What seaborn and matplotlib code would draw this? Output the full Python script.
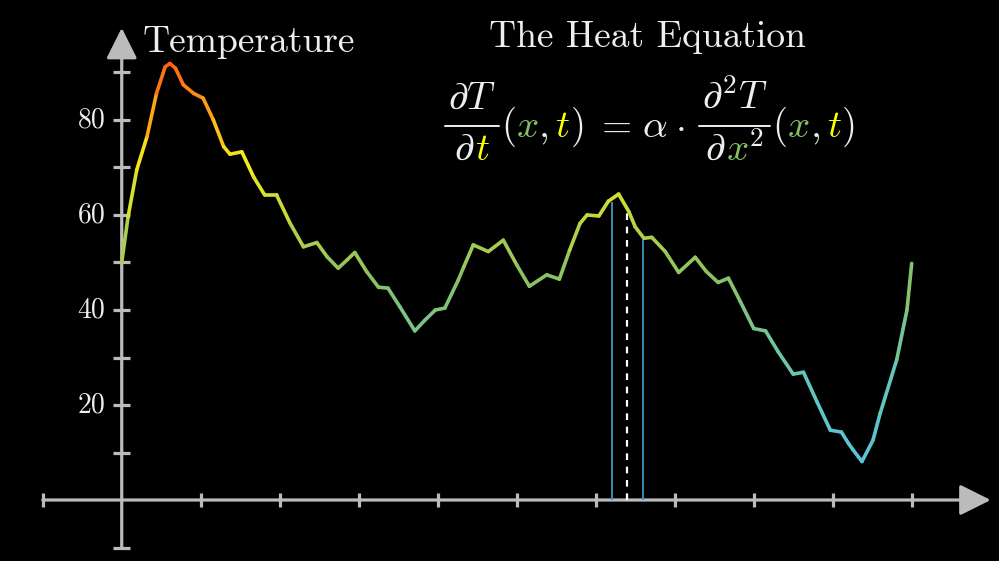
#Gráficos
import matplotlib.pyplot as plt
import matplotlib.transforms as mtransforms
from matplotlib.collections import LineCollection
from matplotlib.lines import Line2D
import seaborn as sns
import numpy as np

#dados (posicao na barra, temperatura)
posicao = [0.00, 0.08, 0.19, 0.32, 0.44, 0.55, 0.61, 0.68, 0.78, 0.91,
           1.03, 1.16, 1.29, 1.37, 1.52, 1.67, 1.81, 1.96, 2.13, 2.30,
           2.47, 2.60, 2.74, 2.85, 2.95, 3.10, 3.25, 3.37, 3.52, 3.71,
           3.84, 3.97, 4.09, 4.26, 4.33, 4.45, 4.64, 4.83, 5.00, 5.16,
           5.38, 5.54, 5.67, 5.80, 5.89, 6.04, 6.16, 6.29, 6.42, 6.50,
           6.61, 6.71, 6.88, 7.05, 7.26, 7.40, 7.55, 7.68, 7.83, 8.00,
           8.15, 8.31, 8.50, 8.63, 8.80, 8.97, 9.11, 9.20, 9.26, 9.37,
           9.51, 9.60, 9.81, 9.94, 10.00]
temperatura = [50.0, 59.6, 69.5, 76.5, 85.6, 91.2, 91.9, 90.9, 87.4, 85.6,
               84.6, 80.0, 74.4, 72.8, 73.3, 68.0, 64.2, 64.2, 58.3, 53.3,
               54.2, 51.2, 48.8, 50.5, 52.1, 48.1, 44.8, 44.6, 40.7, 35.6,
               37.9, 40.0, 40.4, 46.3, 49.1, 53.7, 52.3, 54.7, 49.5, 45.0,
               47.4, 46.5, 52.6, 58.2, 60.0, 59.8, 62.9, 64.4, 60.7, 57.5,
               55.1, 55.3, 52.3, 47.9, 51.1, 48.1, 45.8, 46.7, 41.8, 36.1,
               35.6, 31.2, 26.5, 26.9, 20.7, 14.7, 14.3, 11.9, 10.5, 8.1,
               12.6, 18.2, 29.5, 40.0, 49.8]

#eixos
x_ticks = [-1, 1, 2, 3, 4, 5, 6, 7, 8, 9, 10]
y_ticks = [-10, 10, 20, 30, 40, 50, 60, 70, 80, 90]
y_labels = [20, 40, 60, 80]

#linhas de sonda (vizinhos e ponto central)
vizinhos_x = [6.2, 6.6]
vizinhos_T = [62.8, 54.7]
centro_x = [6.4]
centro_T = [61.5]

sns.set_theme(style='dark', rc={'figure.facecolor': 'black', 'axes.facecolor': 'black'})
plt.rcParams['mathtext.fontset'] = 'cm'

cinza = '#BBBBBB'
branco = '#EEEEEE'
verde = '#83C167'
amarelo = '#FFFF00'

fig = plt.figure(figsize=(9.99, 5.61), dpi=100)
ax = fig.add_axes([0, 0, 1, 1])
ax.set_xlim(-1.541, 11.105)
ax.set_ylim(-12.84, 105.26)
ax.axis('off')

# eixo x e eixo y com setas
seta = dict(arrowstyle='-|>,head_length=1.9,head_width=0.95', color=cinza,
            lw=2.3, shrinkA=0, shrinkB=0, mutation_scale=10)
ax.annotate('', xy=(11.0, 0), xytext=(-1, 0), arrowprops=seta, zorder=1)
ax.annotate('', xy=(0, 99.4), xytext=(0, -10), arrowprops=seta, zorder=1)
ax.vlines(x_ticks, -1.5, 1.5, color=cinza, lw=2.3, zorder=1)
ax.hlines(y_ticks, -0.105, 0.105, color=cinza, lw=2.3, zorder=1)
for v in y_labels:
    ax.text(-0.21, v, str(v), ha='right', va='center', fontsize=20,
            family='cmr10', color=branco)
ax.text(0.27, 94.3, 'Temperature', ha='left', va='baseline', fontsize=27,
        family='cmr10', color=branco)

# sondas
ax.vlines(vizinhos_x, 0, vizinhos_T, color='#3F96BE', lw=1.3, zorder=2)
ax.vlines(centro_x, 0, centro_T, color='white', lw=1.6, linestyles=(0, (3, 3)), zorder=2)

# curva colorida pela temperatura
calor = sns.blend_palette(['#55C1E6', '#62C6BE', '#8BC163', '#F5EC1A', '#FF4A10'], as_cmap=True)
pts = np.column_stack([posicao, temperatura])
segs = np.stack([pts[:-1], pts[1:]], axis=1)
meio = (np.array(temperatura[:-1]) + np.array(temperatura[1:])) / 2
lc = LineCollection(segs, colors=calor(plt.Normalize(0, 95)(meio)), linewidths=2.6,
                    capstyle='round', joinstyle='round', zorder=3)
ax.add_collection(lc)

# titulo e equacao
pix = mtransforms.IdentityTransform()
rend = fig.canvas.get_renderer()
fig.text(647.5, 561 - 46.5, 'The Heat Equation', ha='center', va='baseline',
         fontsize=27, family='cmr10', color=branco, transform=pix)

S = 28

def pecas(itens, x, y, size=S):
    out = []
    for s, c, gap in itens:
        t = fig.text(x, y, s, color=c, fontsize=size, ha='left', va='baseline', transform=pix)
        x += t.get_window_extent(rend).width + gap
        out.append(t)
    return out, x

def desloca(objs, dx):
    for t in objs:
        px, py = t.get_position()
        t.set_position((px + dx, py))

def fracao(num, den, x, base):
    n, nx = pecas(num, x, base + 28)
    d, dx = pecas(den, x, base - 23)
    wn, wd = nx - x, dx - x
    w = max(wn, wd) + 6
    desloca(n, (w - wn) / 2)
    desloca(d, (w - wd) / 2)
    fig.add_artist(Line2D([x, x + w], [base + 11, base + 11], color=branco,
                          lw=1.4, transform=pix))
    return x + w

base = 561 - 136.7
x = fracao([('$\\partial T$', branco, 0)],
           [('$\\partial$', branco, 0), ('$t$', amarelo, 0)], 445, base)
_, x = pecas([('$($', branco, 0), ('$x$', verde, 0), ('$,$', branco, 7), ('$t$', amarelo, 0),
              ('$)$', branco, 12), ('$=$', branco, 10), ('$\\alpha$', branco, 8),
              ('$\\cdot$', branco, 14)], x + 2, base)
x = fracao([('$\\partial^2 T$', branco, 0)],
           [('$\\partial$', branco, 0), ('$x$', verde, 0), ('$^2$', branco, 0)], x, base)
_, x = pecas([('$($', branco, 0), ('$x$', verde, 0), ('$,$', branco, 7), ('$t$', amarelo, 0),
              ('$)$', branco, 0)], x + 2, base)

fig.savefig('out.png', dpi=100, facecolor='black')
